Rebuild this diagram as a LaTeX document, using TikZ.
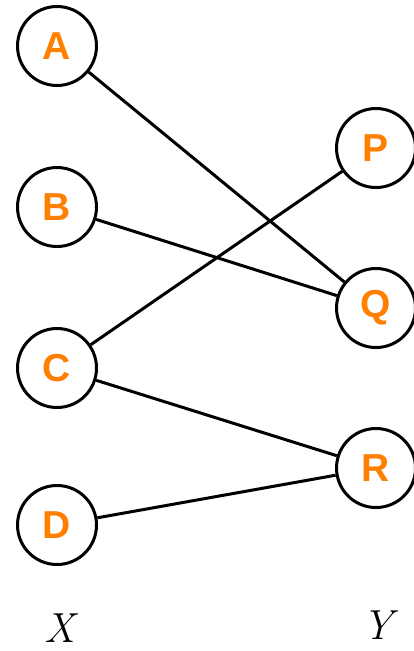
\documentclass[tikz,border=0pt]{standalone}
\usepackage{fontspec}
\setsansfont{Liberation Sans}
\definecolor{vorange}{RGB}{255,128,0}
\begin{document}
\begin{tikzpicture}[x=1pt,y=-1pt,
  vertex/.style={circle,draw=black,line width=3pt,fill=white,minimum size=79pt,inner sep=0pt,
    font=\sffamily\bfseries\fontsize{39}{39}\selectfont,text=vorange},
  edge/.style={line width=3pt,black},
  setlabel/.style={font=\rmfamily\itshape\fontsize{42}{42}\selectfont}]
\useasboundingbox (0,0) rectangle (413,651);
% left part
\node[vertex] (A) at (57,46) {A};
\node[vertex] (B) at (57,207) {B};
\node[vertex] (C) at (57,368) {C};
\node[vertex] (D) at (57,525) {D};
% right part
\node[vertex] (P) at (376,148) {P};
\node[vertex] (Q) at (376,308) {Q};
\node[vertex] (R) at (376,468) {R};
% edges
\draw[edge] (A) -- (Q);
\draw[edge] (B) -- (Q);
\draw[edge] (C) -- (P);
\draw[edge] (C) -- (R);
\draw[edge] (D) -- (R);
% set labels
\node[setlabel] (X) at (60,628) {X};
\node[setlabel] (Y) at (378,625) {Y};
\end{tikzpicture}
\end{document}
